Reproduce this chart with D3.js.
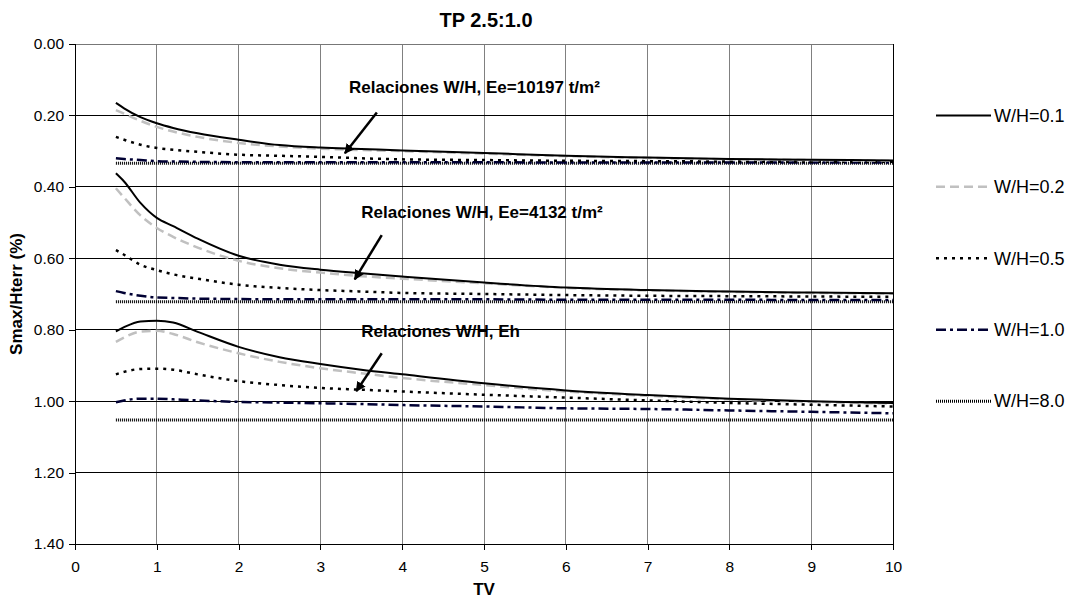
<!DOCTYPE html>
<html>
<head>
<meta charset="utf-8">
<script src="https://cdn.jsdelivr.net/npm/d3@7"></script>
<style>
  html, body { margin: 0; padding: 0; background: #fff; }
  svg { display: block; font-family: "Liberation Sans", Arial, sans-serif; }
</style>
</head>
<body>
<svg id="chart" width="1073" height="598"></svg>
<script>
// Vibration period TV (x values shared by all series)
const tv = [0.5, 0.6, 0.8, 1.0, 1.2, 1.5, 2.0, 2.5, 3.0, 3.5, 4.0, 5.0, 6.0, 7.0, 8.0, 9.0, 10.0];

// Ratios W/H in legend order
const ratios = ["W/H=0.1", "W/H=0.2", "W/H=0.5", "W/H=1.0", "W/H=8.0"];

// Group Ee = 10197 t/m²
const ee10197_01 = [0.165, 0.18, 0.205, 0.222, 0.235, 0.25, 0.268, 0.283, 0.29, 0.294, 0.298, 0.305, 0.313, 0.318, 0.322, 0.324, 0.326];
const ee10197_02 = [0.185, 0.195, 0.215, 0.232, 0.245, 0.26, 0.277, 0.287, 0.293, 0.297, 0.30, 0.307, 0.314, 0.319, 0.323, 0.325, 0.327];
const ee10197_05 = [0.26, 0.268, 0.282, 0.291, 0.296, 0.302, 0.31, 0.313, 0.316, 0.32, 0.323, 0.325, 0.327, 0.328, 0.329, 0.33, 0.33];
const ee10197_10 = [0.32, 0.322, 0.325, 0.328, 0.329, 0.33, 0.331, 0.331, 0.331, 0.331, 0.331, 0.331, 0.332, 0.332, 0.332, 0.332, 0.332];
const ee10197_80 = [0.334, 0.334, 0.334, 0.334, 0.334, 0.334, 0.334, 0.334, 0.334, 0.334, 0.334, 0.334, 0.334, 0.334, 0.334, 0.334, 0.334];

// Group Ee = 4132 t/m²
const ee4132_01 = [0.362, 0.385, 0.445, 0.487, 0.51, 0.545, 0.593, 0.618, 0.632, 0.642, 0.651, 0.668, 0.682, 0.689, 0.693, 0.696, 0.698];
const ee4132_02 = [0.404, 0.43, 0.48, 0.515, 0.54, 0.57, 0.607, 0.628, 0.64, 0.65, 0.657, 0.67, 0.683, 0.69, 0.694, 0.697, 0.699];
const ee4132_05 = [0.577, 0.59, 0.618, 0.633, 0.645, 0.657, 0.674, 0.683, 0.689, 0.693, 0.697, 0.70, 0.703, 0.705, 0.706, 0.707, 0.708];
const ee4132_10 = [0.692, 0.697, 0.705, 0.71, 0.711, 0.713, 0.714, 0.715, 0.715, 0.715, 0.715, 0.715, 0.716, 0.716, 0.716, 0.717, 0.717];
const ee4132_80 = [0.722, 0.722, 0.722, 0.722, 0.722, 0.722, 0.722, 0.722, 0.722, 0.722, 0.722, 0.722, 0.722, 0.722, 0.722, 0.722, 0.722];

// Group Eh
const eh_01 = [0.805, 0.793, 0.777, 0.775, 0.78, 0.806, 0.848, 0.877, 0.896, 0.912, 0.925, 0.95, 0.97, 0.983, 0.993, 1.0, 1.005];
const eh_02 = [0.834, 0.822, 0.805, 0.803, 0.812, 0.835, 0.866, 0.89, 0.908, 0.922, 0.935, 0.955, 0.973, 0.985, 0.995, 1.002, 1.007];
const eh_05 = [0.925, 0.918, 0.91, 0.909, 0.912, 0.925, 0.944, 0.955, 0.963, 0.968, 0.973, 0.982, 0.99, 0.998, 1.005, 1.01, 1.015];
const eh_10 = [1.003, 0.998, 0.993, 0.993, 0.995, 0.998, 1.002, 1.004, 1.006, 1.008, 1.011, 1.015, 1.02, 1.022, 1.026, 1.03, 1.034];
const eh_80 = [1.053, 1.053, 1.053, 1.053, 1.053, 1.053, 1.053, 1.053, 1.053, 1.053, 1.053, 1.053, 1.053, 1.053, 1.053, 1.053, 1.053];

// Axis ticks
const xTicks = [0, 1, 2, 3, 4, 5, 6, 7, 8, 9, 10];
const yTicks = [0, 0.2, 0.4, 0.6, 0.8, 1.0, 1.2, 1.4];

// Annotation text and arrows (data coordinates: [TV, value])
const annLabels = ["Relaciones W/H, Ee=10197 t/m²", "Relaciones W/H, Ee=4132 t/m²", "Relaciones W/H, Eh"];
const annTextPos = [[3.35, 0.137], [3.50, 0.488], [3.50, 0.82]];
const annArrowFrom = [[3.69, 0.192], [3.75, 0.535], [3.75, 0.866]];
const annArrowTo = [[3.30, 0.306], [3.42, 0.659], [3.44, 0.972]];

// Line styles, one per ratio
const styles = [
  { stroke: "#000000", width: 2, dash: null },
  { stroke: "#c0c0c0", width: 2.5, dash: "9,5" },
  { stroke: "#000000", width: 2.5, dash: "3,5" },
  { stroke: "#000033", width: 2.5, dash: "10,4,3,4" },
  { stroke: "#000000", width: 3, dash: "1,1" }
];

const groups = [
  [ee10197_01, ee10197_02, ee10197_05, ee10197_10, ee10197_80],
  [ee4132_01, ee4132_02, ee4132_05, ee4132_10, ee4132_80],
  [eh_01, eh_02, eh_05, eh_10, eh_80]
];

const svg = d3.select("#chart");
const x = d3.scaleLinear().domain([0, 10]).range([75, 893]);
const y = d3.scaleLinear().domain([0, 1.4]).range([44, 544]);

svg.append("rect").attr("width", 1073).attr("height", 598).attr("fill", "#fff");

// Vertical grid
svg.append("g").selectAll("line").data(xTicks.slice(1)).join("line")
  .attr("x1", d => x(d)).attr("x2", d => x(d))
  .attr("y1", y(0)).attr("y2", y(1.4))
  .attr("stroke", d => d === 10 ? "#000" : "#808080").attr("stroke-width", 1)
  .attr("shape-rendering", "crispEdges");

// Horizontal grid
svg.append("g").selectAll("line").data(yTicks).join("line")
  .attr("x1", x(0)).attr("x2", x(10))
  .attr("y1", d => y(d)).attr("y2", d => y(d))
  .attr("stroke", d => d === 0 ? "#777" : "#000").attr("stroke-width", 1)
  .attr("shape-rendering", "crispEdges");

// Axes
const yAxis = d3.axisLeft(y).tickValues(yTicks).tickFormat(d3.format(".2f")).tickSize(6).tickPadding(5);
const gy = svg.append("g").attr("transform", `translate(${x(0)},0)`).call(yAxis);
const xAxis = d3.axisBottom(x).tickValues(xTicks).tickFormat(d3.format("d")).tickSize(6).tickPadding(11);
const gx = svg.append("g").attr("transform", `translate(0,${y(1.4)})`).call(xAxis);
[gx, gy].forEach(g => {
  g.select(".domain").attr("stroke", "#000").attr("shape-rendering", "crispEdges");
  g.selectAll(".tick line").attr("stroke", "#000").attr("shape-rendering", "crispEdges");
  g.selectAll("text").attr("fill", "#000").attr("font-size", 15.5).attr("font-family", "Liberation Sans, Arial, sans-serif");
});

// Series lines
const line = d3.line().x((d, i) => x(tv[i])).y(d => y(d)).curve(d3.curveMonotoneX);
const plot = svg.append("g");
groups.forEach(series => {
  series.slice().reverse().forEach((vals, ri) => {
    const k = series.length - 1 - ri;
    const s = styles[k];
    plot.append("path").datum(vals)
      .attr("d", line)
      .attr("fill", "none")
      .attr("stroke", s.stroke)
      .attr("stroke-width", s.width)
      .attr("stroke-dasharray", s.dash);
  });
});

// Annotations
svg.append("defs").append("marker")
  .attr("id", "arrowhead").attr("viewBox", "0 0 10 10")
  .attr("refX", 9).attr("refY", 5)
  .attr("markerWidth", 4).attr("markerHeight", 4)
  .attr("markerUnits", "strokeWidth")
  .attr("orient", "auto")
  .append("path").attr("d", "M0,0 L10,5 L0,10 z").attr("fill", "#000");

const ann = svg.append("g");
annLabels.forEach((t, i) => {
  ann.append("text")
    .attr("x", x(annTextPos[i][0])).attr("y", y(annTextPos[i][1]))
    .attr("font-size", 17).attr("font-weight", "bold").attr("fill", "#000")
    .text(t);
  ann.append("line")
    .attr("x1", x(annArrowFrom[i][0])).attr("y1", y(annArrowFrom[i][1]))
    .attr("x2", x(annArrowTo[i][0])).attr("y2", y(annArrowTo[i][1]))
    .attr("stroke", "#000").attr("stroke-width", 2.5)
    .attr("marker-end", "url(#arrowhead)");
});

// Title and axis titles
svg.append("text").attr("x", 486).attr("y", 27).attr("text-anchor", "middle")
  .attr("font-size", 20).attr("font-weight", "bold").text("TP 2.5:1.0");
svg.append("text").attr("x", x(5)).attr("y", 595).attr("text-anchor", "middle")
  .attr("font-size", 17).attr("font-weight", "bold").text("TV");
svg.append("text").attr("transform", `translate(22,${y(0.7)}) rotate(-90)`)
  .attr("text-anchor", "middle").attr("font-size", 17).attr("font-weight", "bold")
  .text("Smax/Hterr (%)");

// Legend
const legendY = [0.2, 0.4, 0.6, 0.8, 1.0];
const leg = svg.append("g");
ratios.forEach((r, i) => {
  const s = styles[i];
  const ly = y(legendY[i]);
  leg.append("line").attr("x1", 936).attr("x2", 991).attr("y1", ly).attr("y2", ly)
    .attr("stroke", s.stroke).attr("stroke-width", s.width).attr("stroke-dasharray", s.dash);
  leg.append("text").attr("x", 994).attr("y", ly).attr("dy", "0.35em")
    .attr("font-size", 18).attr("fill", "#000").text(r);
});
</script>
</body>
</html>
